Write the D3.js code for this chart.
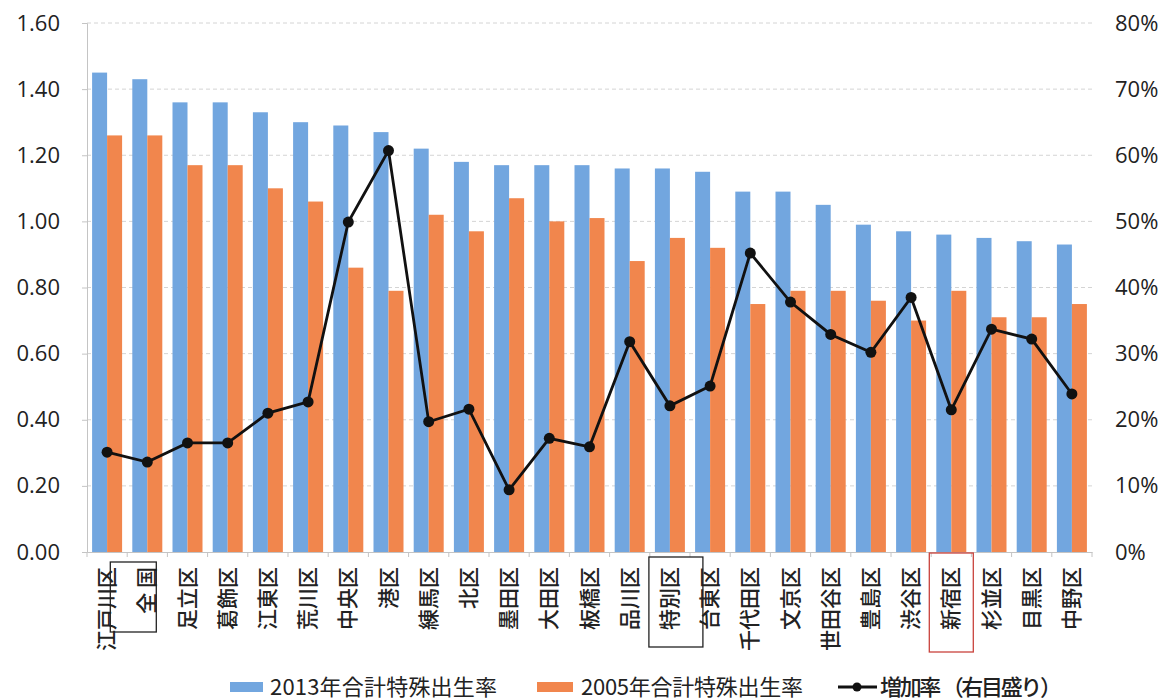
<!DOCTYPE html>
<html lang="ja">
<head>
<meta charset="UTF-8"/>
<title>合計特殊出生率</title>
<script src="https://d3js.org/d3.v7.min.js"></script>
<style>
  body { margin: 0; background: #fff; }
  text { font-family: "Noto Sans CJK JP", "Noto Sans", sans-serif; fill: #222; }
  .num { font-family: "Open Sans", "Noto Sans", sans-serif; }
</style>
</head>
<body>
<script>
  // categories (wards) and values
  var wards = ["江戸川区", "全 国", "足立区", "葛飾区", "江東区", "荒川区", "中央区", "港区", "練馬区", "北区",
               "墨田区", "大田区", "板橋区", "品川区", "特別区", "台東区", "千代田区", "文京区", "世田谷区", "豊島区",
               "渋谷区", "新宿区", "杉並区", "目黒区", "中野区"];
  var rate2013 = [1.45, 1.43, 1.36, 1.36, 1.33, 1.30, 1.29, 1.27, 1.22, 1.18,
                  1.17, 1.17, 1.17, 1.16, 1.16, 1.15, 1.09, 1.09, 1.05, 0.99,
                  0.97, 0.96, 0.95, 0.94, 0.93];
  var rate2005 = [1.26, 1.26, 1.17, 1.17, 1.10, 1.06, 0.86, 0.79, 1.02, 0.97,
                  1.07, 1.00, 1.01, 0.88, 0.95, 0.92, 0.75, 0.79, 0.79, 0.76,
                  0.70, 0.79, 0.71, 0.71, 0.75];
  var growth = [0.151, 0.136, 0.165, 0.165, 0.210, 0.227, 0.499, 0.607, 0.197, 0.216,
                0.094, 0.172, 0.159, 0.318, 0.221, 0.251, 0.452, 0.378, 0.329, 0.302,
                0.385, 0.215, 0.337, 0.322, 0.239];
  var leftTicks = [0, 0.2, 0.4, 0.6, 0.8, 1.0, 1.2, 1.4, 1.6];
  var rightTicks = [0, 0.1, 0.2, 0.3, 0.4, 0.5, 0.6, 0.7, 0.8];
  var seriesNames = ["2013年合計特殊出生率", "2005年合計特殊出生率", "増加率 （右目盛り）"];

  var w = 1171, h = 700;
  var plotLeft = 87, plotRight = 1092, plotTop = 23, plotBottom = 552;
  var blue = "#72a6df", orange = "#f1864d";

  var svg = d3.select("body").append("svg")
      .attr("width", w).attr("height", h);

  var x0 = d3.scaleBand().domain(d3.range(wards.length)).range([plotLeft, plotRight]);
  var x1 = d3.scaleBand().domain(["a", "b"]).range([0, x0.bandwidth()]).paddingOuter(0.34);
  var yL = d3.scaleLinear().domain([0, 1.6]).range([plotBottom, plotTop]);
  var yR = d3.scaleLinear().domain([0, 0.8]).range([plotBottom, plotTop]);

  // gridlines
  svg.append("g").selectAll("line")
    .data(leftTicks.slice(1))
    .enter().append("line")
    .attr("x1", plotLeft).attr("x2", plotRight)
    .attr("y1", function(d) { return yL(d); })
    .attr("y2", function(d) { return yL(d); })
    .attr("stroke", "#d4d4d4").attr("stroke-dasharray", "4,3");

  // bars
  var groups = svg.append("g").selectAll("g")
    .data(wards).enter().append("g")
    .attr("transform", function(d, i) { return "translate(" + x0(i) + ",0)"; });
  groups.append("rect")
    .attr("x", x1("a")).attr("width", x1.bandwidth())
    .attr("y", function(d, i) { return yL(rate2013[i]); })
    .attr("height", function(d, i) { return plotBottom - yL(rate2013[i]); })
    .attr("fill", blue);
  groups.append("rect")
    .attr("x", x1("b")).attr("width", x1.bandwidth())
    .attr("y", function(d, i) { return yL(rate2005[i]); })
    .attr("height", function(d, i) { return plotBottom - yL(rate2005[i]); })
    .attr("fill", orange);

  // left axis
  var yAxisL = d3.axisLeft(yL).tickValues(leftTicks).tickSize(5).tickFormat(d3.format(".2f"));
  var gL = svg.append("g").attr("transform", "translate(" + plotLeft + ",0)").call(yAxisL);
  gL.select(".domain").attr("stroke", "#c4c4c4");
  gL.selectAll(".tick line").attr("stroke", "#c4c4c4");
  gL.selectAll(".tick text").attr("class", "num").attr("x", -27)
    .style("font-size", "22px").attr("fill", "#222");

  // right axis (labels only)
  var yAxisR = d3.axisRight(yR).tickValues(rightTicks).tickSize(0).tickFormat(d3.format(".0%"));
  var gR = svg.append("g").attr("transform", "translate(" + plotRight + ",0)").call(yAxisR);
  gR.select(".domain").remove();
  gR.selectAll(".tick text").attr("class", "num").attr("x", 23)
    .style("font-size", "22px").attr("fill", "#222");

  // bottom axis
  var xAxis = d3.axisBottom(x0).tickSize(0).tickFormat("");
  var gX = svg.append("g").attr("transform", "translate(0," + plotBottom + ")").call(xAxis);
  gX.select(".domain").attr("stroke", "#c4c4c4");
  gX.append("g").selectAll("line")
    .data(d3.range(wards.length + 1)).enter().append("line")
    .attr("x1", function(d) { return plotLeft + d * x0.step(); })
    .attr("x2", function(d) { return plotLeft + d * x0.step(); })
    .attr("y1", 0).attr("y2", 5).attr("stroke", "#c4c4c4");

  // category labels, rotated
  svg.append("g").selectAll("text")
    .data(wards).enter().append("text")
    .attr("transform", function(d, i) {
      return "translate(" + (x0(i) + x0.bandwidth() / 2 + 7) + ",567) rotate(-90)";
    })
    .attr("text-anchor", "end")
    .style("font-size", "21px")
    .style("font-weight", "500")
    .style("white-space", "pre")
    .text(function(d) { return d; });

  // boxes drawn round three labels
  var boxes = [
    { i: 1, dx: -37, w: 46, y: 562, h: 70, c: "#222" },
    { i: 14, dx: -21, w: 54, y: 557, h: 90, c: "#222" },
    { i: 21, dx: -22, w: 44, y: 553, h: 99, c: "#c9433c" }
  ];
  svg.append("g").selectAll("rect")
    .data(boxes).enter().append("rect")
    .attr("x", function(d) { return x0(d.i) + x0.bandwidth() / 2 + d.dx; })
    .attr("y", function(d) { return d.y; })
    .attr("width", function(d) { return d.w; })
    .attr("height", function(d) { return d.h; })
    .attr("fill", "none").attr("stroke", function(d) { return d.c; }).attr("stroke-width", 1.3);

  // growth line
  var line = d3.line()
    .x(function(d, i) { return x0(i) + x0.bandwidth() / 2; })
    .y(function(d) { return yR(d); });
  svg.append("path").datum(growth)
    .attr("d", line).attr("fill", "none")
    .attr("stroke", "#111").attr("stroke-width", 2.8);
  svg.append("g").selectAll("circle")
    .data(growth).enter().append("circle")
    .attr("cx", function(d, i) { return x0(i) + x0.bandwidth() / 2; })
    .attr("cy", function(d) { return yR(d); })
    .attr("r", 5.5).attr("fill", "#111");

  // legend
  var lg = svg.append("g");
  lg.append("rect").attr("x", 230).attr("y", 682).attr("width", 33).attr("height", 10).attr("fill", blue);
  lg.append("text").attr("x", 270).attr("y", 695).attr("textLength", 227)
    .style("font-size", "22px").text(seriesNames[0]);
  lg.append("rect").attr("x", 537).attr("y", 682).attr("width", 36).attr("height", 10).attr("fill", orange);
  lg.append("text").attr("x", 581).attr("y", 695).attr("textLength", 222)
    .style("font-size", "22px").text(seriesNames[1]);
  lg.append("line").attr("x1", 838).attr("x2", 877).attr("y1", 687).attr("y2", 687)
    .attr("stroke", "#111").attr("stroke-width", 2.8);
  lg.append("circle").attr("cx", 857).attr("cy", 687).attr("r", 4.5).attr("fill", "#111");
  lg.append("text").attr("x", 880).attr("y", 695).attr("textLength", 182)
    .style("font-size", "22px").style("font-weight", "500").style("white-space", "pre").text(seriesNames[2]);
</script>
</body>
</html>
